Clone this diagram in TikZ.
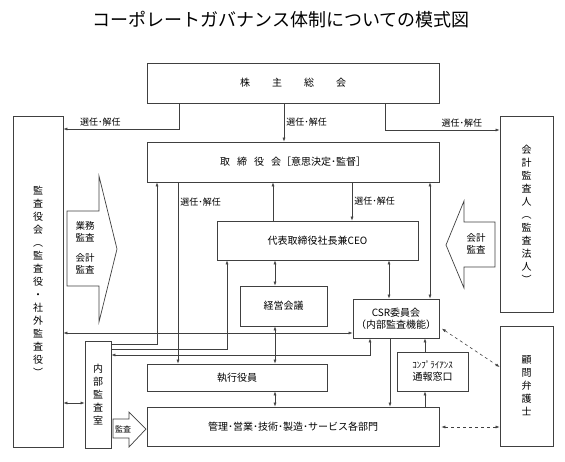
\documentclass[tikz,border=0pt]{standalone}
\usepackage{fontspec}
\setmainfont{Noto Sans CJK JP}
\usepackage{tikz}
\usetikzlibrary{arrows.meta, positioning}
\usepackage{xcolor}
\definecolor{linegray}{rgb}{0.25,0.25,0.25}
\tikzstyle{box} = [rectangle, draw=linegray, line width=0.8pt, inner sep=0pt, align=center, font=\fontsize{10}{12}\selectfont]
\tikzstyle{tate} = [box, font=\fontsize{10}{13}\selectfont]
\tikzstyle{arrow} = [draw=linegray, line width=0.6pt, -{Latex[length=4pt,width=3pt]}]
\tikzstyle{dblarrow} = [draw=linegray, line width=0.6pt, {Latex[length=4pt,width=3pt]}-{Latex[length=4pt,width=3pt]}]
\tikzstyle{seltag} = [font=\fontsize{9}{10}\selectfont, inner sep=2pt]
\tikzstyle{bigarrow} = [draw=linegray, line width=0.7pt, fill=white]
\tikzstyle{arrowtext} = [align=center, inner sep=0pt, font=\fontsize{9.5}{12}\selectfont]

\begin{document}
\begin{tikzpicture}[x=1pt, y=-1pt]
\useasboundingbox (0,0) rectangle (565,461);

% Title
\node (title) at (281,20) {\fontsize{18}{20}\selectfont コーポレートガバナンス体制についての模式図};

% Nodes
\node (kabu) [box, minimum width=292pt, minimum height=40pt] at (293,83) {株\hspace{22pt}主\hspace{22pt}総\hspace{22pt}会};
\node (kansa) [tate, minimum width=50pt, minimum height=331pt] at (38,281.5) {監\\査\\役\\会\\︵\\監\\査\\役\\・\\社\\外\\監\\査\\役\\︶};
\node (kaikei) [tate, minimum width=53pt, minimum height=196pt] at (526.5,214) {会\\計\\監\\査\\人\\︵\\監\\査\\法\\人\\︶};
\node (torishimari) [box, minimum width=292pt, minimum height=40pt] at (293,162) {取\hspace{7pt}締\hspace{7pt}役\hspace{7pt}会［意思決定･監督］};
\node (ceo) [box, minimum width=201pt, minimum height=39pt] at (317.5,240.5) {代表取締役社長兼CEO};
\node (keiei) [box, minimum width=87pt, minimum height=40pt] at (283.5,306) {経営会議};
\node (csr) [box, minimum width=86pt, minimum height=39pt] at (396,318.5) {CSR委員会\\（内部監査機能）};
\node (tsuho) [box, minimum width=71pt, minimum height=39pt] at (432.5,371.5) {{\fontsize{9}{10}\selectfont ｺﾝﾌﾟﾗｲｱﾝｽ}\\通報窓口};
\node (shikko) [box, minimum width=180pt, minimum height=27pt] at (237,377.5) {執行役員};
\node (kanri) [box, minimum width=292pt, minimum height=39pt] at (293,426.5) {管理･営業･技術･製造･サービス各部門};
\node (naibu) [tate, minimum width=26pt, minimum height=107pt] at (98,394.5) {内\\部\\監\\査\\室};
\node (komon) [tate, minimum width=53pt, minimum height=120pt] at (526.5,386) {顧\\問\\弁\\護\\士};

% Block arrows
\draw [bigarrow] (67,211) -- (99,211) -- (99,176) -- (117,249) -- (99,322) -- (99,286) -- (67,286) -- cycle;
\node (gyomu) [arrowtext] at (85,232) {業務\\監査};
\node (kaikeiL) [arrowtext] at (85,264) {会計\\監査};
\draw [bigarrow] (495,222) -- (464,222) -- (464,201) -- (446,245) -- (464,288) -- (464,267) -- (495,267) -- cycle;
\node (kaikeiR) [arrowtext] at (476,244) {会計\\監査};
\draw [bigarrow] (113,419) -- (129,419) -- (129,412) -- (146,429) -- (129,447) -- (129,438) -- (113,438) -- cycle;
\node (kansatag) [arrowtext, font=\fontsize{8}{10}\selectfont] at (123,429) {監査};

% Arrows
\draw [arrow] (kabu.south -| 179,0) |- node[seltag, above, pos=0.84] {選任･解任} (kansa.east |- 0,129);
\draw [arrow] (kabu.south -| 284,0) -- node[seltag, right] {選任･解任} (torishimari.north -| 284,0);
\draw [arrow] (kabu.south -| 385,0) |- node[seltag, above, pos=0.835] {選任･解任} (kaikei.west |- 0,130);
\draw [arrow] (torishimari.south -| 178,0) -- node[seltag, right, pos=0.11] {選任･解任} (shikko.north -| 178,0);
\draw [arrow] (torishimari.south -| 352,0) -- node[seltag, right] {選任･解任} (ceo.north -| 352,0);
\draw [arrow] (ceo.north -| 273,0) -- (torishimari.south -| 273,0);
\draw [dblarrow] (torishimari.south -| 430,0) -- (csr.north -| 430,0);
\draw [dblarrow] (ceo.south -| 389,0) -- (csr.north -| 389,0);
\draw [dblarrow] (ceo.south -| 275,0) -- (keiei.north -| 275,0);
\draw [dblarrow] (keiei.south -| 275,0) -- (shikko.north -| 275,0);
\draw [dblarrow] (shikko.south -| 275,0) -- (kanri.north -| 275,0);
\draw [dblarrow] (kansa.east |- 0,333) -- (csr.west |- 0,333);
\draw [arrow] (naibu.east |- 0,344) -| (torishimari.south -| 157,0);
\draw [arrow] (naibu.east |- 0,349) -| (ceo.south -| 227,0);
\draw [dblarrow] (naibu.east |- 0,355) -| (csr.south -| 370,0);
\draw [dblarrow] (kansa.east |- 0,403) -- (naibu.west |- 0,403);
\draw [arrow] (csr.south -| 390,0) -- (kanri.north -| 390,0);
\draw [arrow] (kanri.north -| 425,0) -- (tsuho.south -| 425,0);
\draw [arrow] (tsuho.north -| 425,0) -- (csr.south -| 425,0);
\draw [dblarrow, dashed, shorten <=3pt] (csr.east |- 0,327) -- (komon.west |- 0,367);
\draw [dblarrow, dashed, shorten <=2pt] (kanri.east |- 0,427) -- (komon.west |- 0,427);

\end{tikzpicture}
\end{document}
